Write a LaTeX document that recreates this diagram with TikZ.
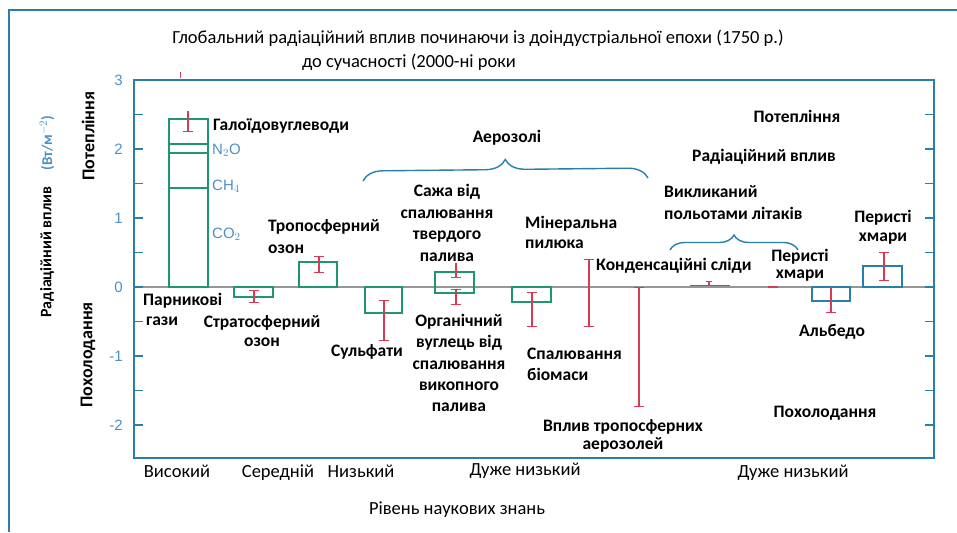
\documentclass[tikz,border=0pt]{standalone}
\usepackage{fontspec}
\setmainfont{Carlito}
\newfontfamily\tickfont{Liberation Sans}
\usetikzlibrary{decorations.pathreplacing,arrows.meta}
\definecolor{frameblue}{RGB}{38,128,170}
\definecolor{labblue}{RGB}{75,145,200}
\definecolor{bargreen}{RGB}{30,150,110}
\definecolor{errred}{RGB}{215,60,85}
\definecolor{zerogray}{RGB}{150,150,150}
\tikzset{
  lab/.style={font=\bfseries\fontsize{17.5}{21}\selectfont, inner sep=0pt, align=center, text=black},
  ttl/.style={font=\fontsize{18.5}{20}\selectfont, inner sep=0pt},
  lvl/.style={font=\fontsize{18.5}{20}\selectfont, inner sep=0pt, anchor=base},
  ticklab/.style={font=\tickfont\fontsize{15}{16}\selectfont, text=labblue, inner sep=0pt, anchor=east},
  gaslab/.style={font=\tickfont\fontsize{15}{16}\selectfont, text=labblue, inner sep=0pt, anchor=west},
  gbar/.style={draw=bargreen, line width=1.6pt},
  bbar/.style={draw=frameblue, line width=1.6pt},
  err/.style={draw=errred, line width=1.3pt, {Bar[width=10pt]}-{Bar[width=10pt]}},
  errlo/.style={draw=errred, line width=1.3pt, -{Bar[width=10pt]}},
  brc/.style={draw=frameblue, line width=1.4pt, decorate},
}
\begin{document}
\begin{tikzpicture}[x=1pt,y=-1pt]
\useasboundingbox (0,0) rectangle (957,532);
% outer frame
\draw[frameblue, line width=2pt] (9,532) -- (9,10) -- (957,10);
% title
\node[ttl] (t1) at (478,38) {Глобальний радіаційний вплив починаючи із доіндустріальної епохи (1750 р.)};
\node[ttl] (t2) at (409,62) {до сучасності (2000-ні роки};
\draw[errred, line width=1pt] (180,72) -- (180,78);
% plot frame
\draw[frameblue, line width=2pt] (134,80) rectangle (934,458);
\draw[zerogray, line width=1.2pt] (134,287) -- (934,287);
\foreach \v in {-2,-1.5,...,2.5}{
  \pgfmathsetmacro{\yy}{287-69*\v}
  \draw[frameblue, line width=1.5pt] (134,\yy) -- (143,\yy);
  \draw[frameblue, line width=1.5pt] (925,\yy) -- (934,\yy);
}
\foreach \v/\t/\n in {3/3/a,2/2/b,1/1/c,0/0/d,-1/-1/e,-2/-2/f}{
  \pgfmathsetmacro{\yy}{287-69*\v}
  \node[ticklab] (tk\n) at (123,\yy) {\t};
}
% axis labels
\node[lab, rotate=90, font=\bfseries\fontsize{16}{18}\selectfont] (ylab) at (47,252) {Радіаційний вплив};
\node[lab, rotate=90, text=labblue, font=\bfseries\fontsize{15}{18}\selectfont] (yunit) at (47,143) {(Вт/м$^{-2}$)};
\node[lab, rotate=90, font=\bfseries\fontsize{18}{18}\selectfont] (warmL) at (88,136) {Потепління};
\node[lab, rotate=90, font=\bfseries\fontsize{18}{18}\selectfont] (coolL) at (88,355) {Похолодання};
% greenhouse gases
\draw[gbar] (169,287) rectangle (208,119);
\draw[gbar] (169,144) -- (208,144);
\draw[gbar] (169,153) -- (208,153);
\draw[gbar] (169,188) -- (208,188);
\draw[errlo] (188,111) -- (188,132);
\node[lab, anchor=west] (halo) at (213,126) {Галоїдовуглеводи};
\node[gaslab] (n2o) at (212,150) {N$_2$O};
\node[gaslab] (ch4) at (212,186) {CH$_4$};
\node[gaslab] (co2) at (212,234) {CO$_2$};
\node[lab, anchor=west, align=left, font=\bfseries\fontsize{17.5}{20}\selectfont] (ghg) at (143,309) {Парникові\\\hspace{3pt}гази};
% stratospheric ozone
\draw[gbar] (234,287) rectangle (273,297);
\draw[err] (254,290) -- (254,303);
\node[lab, font=\bfseries\fontsize{17.5}{18.5}\selectfont] (strat) at (262,331) {Стратосферний\\озон};
% tropospheric ozone
\draw[gbar] (299,287) rectangle (337,262);
\draw[err] (319,256) -- (319,273);
\node[lab, anchor=west, align=left, font=\bfseries\fontsize{17.5}{22}\selectfont] (trop) at (268,237) {Тропосферний\\озон};
% sulfates
\draw[gbar] (365,287) rectangle (402,313);
\draw[err] (384,300) -- (384,341);
\node[lab] (sulf) at (367,352) {Сульфати};
% soot / organic carbon
\draw[gbar] (435,272) rectangle (474,293);
\draw[errlo] (456,263) -- (456,278);
\draw[err] (456,289) -- (456,305);
\node[lab, font=\bfseries\fontsize{17.5}{21.7}\selectfont] (soot) at (447,223) {Сажа від\\спалювання\\твердого\\палива};
\node[lab, font=\bfseries\fontsize{17.5}{21.3}\selectfont] (orgc) at (459,363) {Органічний\\вуглець від\\спалювання\\викопного\\палива};
% biomass
\draw[gbar] (512,287) rectangle (551,302);
\draw[err] (532,292) -- (532,327);
% mineral dust
\draw[err] (589,259) -- (589,327);
\node[lab, anchor=west, align=left, font=\bfseries\fontsize{17.5}{20}\selectfont] (dust) at (525,232) {Мінеральна\\пилюка};
\node[lab, anchor=west, align=left, font=\bfseries\fontsize{17.5}{21}\selectfont] (bio) at (527,364) {Спалювання\\біомаси};
% indirect aerosol effect
\draw[err] (639,287) -- (639,407);
\node[lab, font=\bfseries\fontsize{17.5}{18.5}\selectfont] (indir) at (623,436) {Вплив тропосферних\\аерозолей};
% aerosols brace
\draw[brc, decoration={brace, amplitude=20pt}] (363,181) -- (648,178);
\node[lab] (aer) at (507,138) {Аерозолі};
% contrails
\draw[errred, line width=1.6pt] (690,285.5) -- (730,285.5);
\draw[errred, line width=1.2pt, -{Bar[width=6pt]}] (709,285) -- (709,281);
\node[lab, anchor=west] (contr) at (596,266) {Конденсаційні сліди};
% aviation cirrus
\draw[errred, line width=1.6pt] (768,287) -- (778,287);
\node[lab, font=\bfseries\fontsize{17.5}{17}\selectfont] (cir1) at (800,265) {Перисті\\хмари};
% aviation brace
\draw[brc, decoration={brace, amplitude=15pt}] (670,250) -- (798,250);
\node[lab, anchor=west, align=left, font=\bfseries\fontsize{17.5}{22}\selectfont] (avia) at (664,203) {Викликаний\\польотами літаків};
% right texts
\node[lab] (warmR) at (797,116) {Потепління};
\node[lab] (rfR) at (764,157) {Радіаційний вплив};
\node[lab] (coolR) at (825,413) {Похолодання};
% albedo
\draw[bbar] (812,287) rectangle (850,301);
\draw[err] (831,287) -- (831,313);
\node[lab] (alb) at (832,332) {Альбедо};
% cirrus (solar)
\draw[bbar] (863,287) rectangle (902,266);
\draw[err] (884,252) -- (884,281);
\node[lab, font=\bfseries\fontsize{17.5}{19}\selectfont] (cir2) at (883,227) {Перисті\\хмари};
% level of scientific understanding
\node[lvl] (l1) at (177,477) {Високий};
\node[lvl] (l2) at (278,477) {Середній};
\node[lvl] (l3) at (361,477) {Низький};
\node[lvl] (l4) at (525,475) {Дуже низький};
\node[lvl] (l5) at (793,477) {Дуже низький};
\node[lvl] (lvlT) at (457,514) {Рівень наукових знань};
\end{tikzpicture}
\end{document}
